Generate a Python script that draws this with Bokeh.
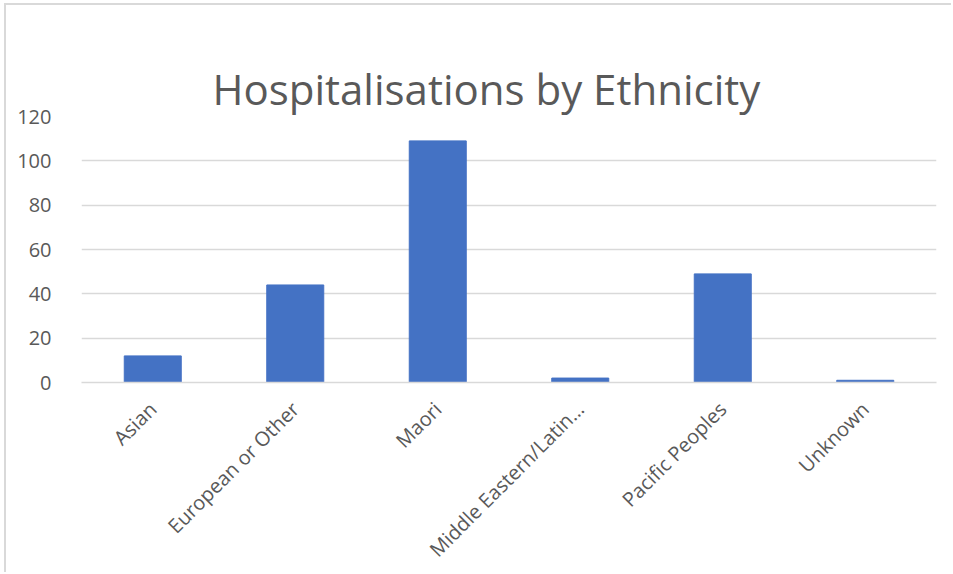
import math
from bokeh.plotting import figure
from bokeh.models import FactorRange, Range1d, FixedTicker, Title
from bokeh.embed import file_html
from bokeh.resources import INLINE

categories = ["Asian", "European or Other", "Maori", "Middle Eastern/Latin…", "Pacific Peoples", "Unknown"]
values = [12, 44, 109, 2, 49, 1]
y_ticks = [0, 20, 40, 60, 80, 100, 120]
title_text = "Hospitalisations by Ethnicity"

TEXT = "#595959"
GRID = "#d9d9d9"
BAR = "#4472C4"
FONT = "Open Sans"

p = figure(
    width=947, height=569,
    x_range=FactorRange(*categories, range_padding=0),
    y_range=Range1d(0, 120),
    output_backend="svg", toolbar_location=None,
    min_border_left=75, min_border_right=17, min_border_top=111, min_border_bottom=192,
    title=" ",
)
p.styles = {"margin-left": "4px", "margin-top": "3px",
            "border-left": "2px solid #d9d9d9", "border-top": "2px solid #d9d9d9"}

p.vbar(x=categories, top=values, width=0.4, fill_color=BAR, line_color=BAR)

# blank inner title acts as a spacer between the chart title and the plot area
p.title.text_font_size = "1px"
p.title.standoff = 37

p.add_layout(Title(text=title_text, text_font=FONT, text_font_size="42px",
                   text_font_style="normal", text_color=TEXT,
                   align="left", offset=131, standoff=0), "above")

p.outline_line_color = None
p.xgrid.grid_line_color = None
p.ygrid.grid_line_color = GRID
p.ygrid.grid_line_width = 1.3

p.yaxis.ticker = FixedTicker(ticks=y_ticks)
p.yaxis.axis_line_color = None
p.yaxis.major_tick_line_color = None
p.yaxis.minor_tick_line_color = None
p.yaxis.major_label_standoff = 24
p.yaxis.major_label_text_font = FONT
p.yaxis.major_label_text_font_size = "20px"
p.yaxis.major_label_text_color = TEXT

p.xaxis.axis_line_color = GRID
p.xaxis.axis_line_width = 1.3
p.xaxis.major_tick_line_color = None
p.xaxis.minor_tick_line_color = None
p.xaxis.major_label_orientation = math.pi / 4
p.xaxis.major_label_standoff = 17
p.xaxis.major_label_text_font = FONT
p.xaxis.major_label_text_font_size = "20px"
p.xaxis.major_label_text_color = TEXT

open("out.html", "w").write(file_html(p, INLINE))
